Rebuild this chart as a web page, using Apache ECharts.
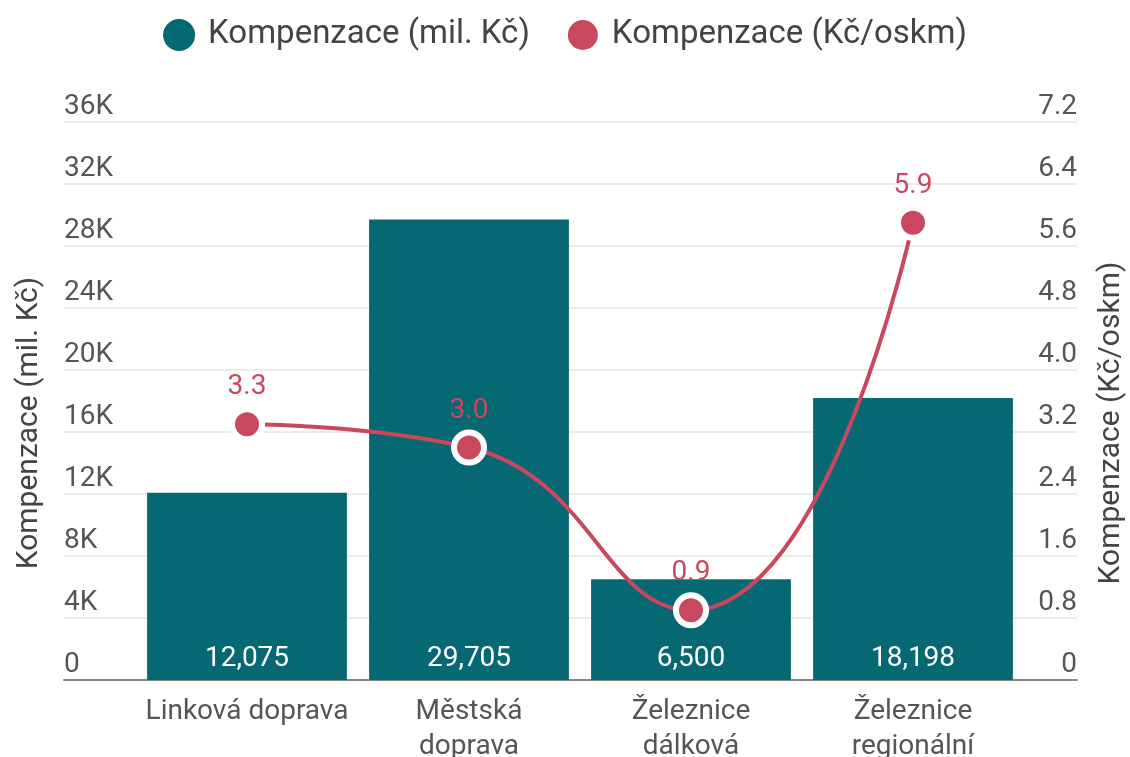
<!DOCTYPE html>
<html>
<head>
<meta charset="utf-8">
<script src="https://cdn.jsdelivr.net/npm/echarts@6/dist/echarts.min.js"></script>
<style>
  html, body { margin: 0; padding: 0; background: #fff; }
  #chart { width: 1130px; height: 757px; }
</style>
</head>
<body>
<div id="chart"></div>
<script>
// Data
const categories = ["Linková doprava", "Městská\ndoprava", "Železnice\ndálková", "Železnice\nregionální"];
const compMil = [12075, 29705, 6500, 18198];
const compOskm = [3.3, 3.0, 0.9, 5.9];

const leftTicks = { min: 0, max: 36000, interval: 4000 };
const rightTicks = { min: 0, max: 7.2, interval: 0.8 };

const teal = "#066872";
const red = "#c9485e";
const textColor = "#555";
const fontFamily = "Roboto, sans-serif";

const chart = echarts.init(document.getElementById("chart"));

const option = {
    textStyle: { fontFamily: fontFamily },
    animation: false,

    // LEGEND
    legend: {
        top: 13,
        left: "center",
        icon: "circle",
        itemWidth: 32,
        itemHeight: 32,
        itemGap: 36,
        textStyle: { fontSize: 33, color: "#444", fontFamily: fontFamily, padding: [0, 0, 0, 8] }
    },

    // two grids: wide one for gridlines/labels, narrow one for the marks
    grid: [
        { left: 64, right: 53, top: 122, bottom: 77, outerBoundsMode: "none" },
        { left: 136, right: 106, top: 122, bottom: 77, outerBoundsMode: "none" }
    ],

    xAxis: [
        {
            gridIndex: 0,
            type: "category",
            data: [""],
            axisLine: { show: true, lineStyle: { color: "#888", width: 2 } },
            axisTick: { show: false },
            axisLabel: { show: false },
            splitLine: { show: false }
        },
        {
            gridIndex: 1,
            type: "category",
            data: categories,
            axisLine: { show: false },
            axisTick: { show: false },
            axisLabel: {
                color: textColor,
                fontSize: 28,
                margin: 14,
                lineHeight: 35,
                interval: 0
            }
        }
    ],

    yAxis: [
        {
            gridIndex: 0,
            type: "value",
            position: "left",
            min: leftTicks.min,
            max: leftTicks.max,
            interval: leftTicks.interval,
            name: "Kompenzace (mil. Kč)",
            nameLocation: "middle",
            nameGap: 20,
            nameTextStyle: { fontSize: 30, color: "#444", padding: [0, 44, 0, 0] },
            axisLine: { show: false },
            axisTick: { show: false },
            axisLabel: {
                inside: true,
                align: "left",
                verticalAlign: "bottom",
                padding: [0, 0, 1, 0],
                margin: 0,
                color: textColor,
                fontSize: 28,
                formatter: v => v === 0 ? "0" : (v / 1000) + "K"
            },
            splitLine: { lineStyle: { color: "#ececec", width: 2 } }
        },
        {
            gridIndex: 0,
            type: "value",
            position: "right",
            min: rightTicks.min,
            max: rightTicks.max,
            interval: rightTicks.interval,
            name: "Kompenzace (Kč/oskm)",
            nameLocation: "middle",
            nameGap: 19,
            nameTextStyle: { fontSize: 30, color: "#444", padding: [0, 44, 0, 0] },
            axisLine: { show: false },
            axisTick: { show: false },
            axisLabel: {
                inside: true,
                align: "right",
                verticalAlign: "bottom",
                padding: [0, 0, 1, 0],
                margin: 0,
                color: textColor,
                fontSize: 28,
                formatter: v => v === 0 ? "0" : v.toFixed(1)
            },
            splitLine: { show: false }
        },
        {
            gridIndex: 1,
            type: "value",
            min: leftTicks.min,
            max: leftTicks.max,
            show: false
        },
        {
            gridIndex: 1,
            type: "value",
            min: rightTicks.min,
            max: rightTicks.max,
            show: false
        }
    ],

    // SERIES
    series: [
        {
            name: "Kompenzace (mil. Kč)",
            type: "bar",
            xAxisIndex: 1,
            yAxisIndex: 2,
            data: compMil,
            barCategoryGap: "10%",
            itemStyle: { color: teal },
            label: {
                show: true,
                position: "insideBottom",
                distance: 7,
                color: "#fff",
                fontSize: 28,
                formatter: p => p.value.toLocaleString("en-US")
            }
        },
        {
            name: "Kompenzace (Kč/oskm)",
            type: "line",
            xAxisIndex: 1,
            yAxisIndex: 3,
            data: compOskm,
            smooth: true,
            symbol: "circle",
            symbolSize: 30,
            lineStyle: { color: red, width: 4 },
            itemStyle: { color: red, borderColor: "#fff", borderWidth: 6 },
            label: {
                show: true,
                position: "top",
                distance: 5,
                color: red,
                fontSize: 28,
                formatter: p => p.value.toFixed(1)
            }
        }
    ]
};

chart.setOption(option);
</script>
</body>
</html>
